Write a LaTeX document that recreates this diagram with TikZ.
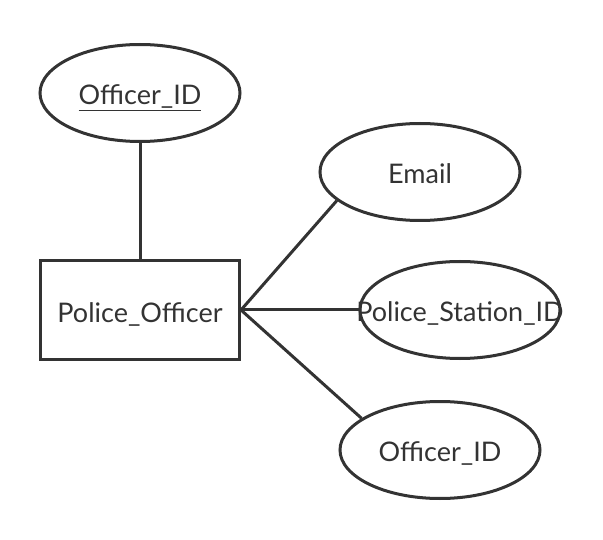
\documentclass[tikz,border=0pt]{standalone}
\usepackage{fontspec}
\setmainfont{Lato}
\usetikzlibrary{shapes,positioning}
\definecolor{ink}{RGB}{51,51,51}

\begin{document}
\begin{tikzpicture}[x=1pt,y=-1pt,
    entity/.style={draw=ink, line width=3pt, minimum width=199pt, minimum height=99pt, inner sep=0pt, text=ink, text height=25pt, text depth=0pt, font=\fontsize{27}{32}\selectfont},
    attr/.style={ellipse, draw=ink, line width=3pt, minimum width=200pt, minimum height=97pt, inner sep=0pt, text=ink, text height=23pt, text depth=0pt, font=\fontsize{27}{32}\selectfont},
    link/.style={draw=ink, line width=3pt}]
    \useasboundingbox (0,0) rectangle (603,540);

    % Entity
    \node[entity] (officer) at (140,310) {Police\_Officer};

    % Attributes
    \node[attr] (key) at (140,93) {\underline{Officer\_ID}};
    \node[attr] (email) at (420,172) {Email};
    \node[attr] (station) at (460,310) {\makebox[0pt]{Police\_Station\_ID}};
    \node[attr] (oid) at (440,450) {Officer\_ID};

    % Connectors
    \draw[link] (key) -- (officer);
    \draw[link] (officer.east) -- (email.199);
    \draw[link] (officer.east) -- (station.west);
    \draw[link] (officer.east) -- (oid.158);
\end{tikzpicture}
\end{document}
